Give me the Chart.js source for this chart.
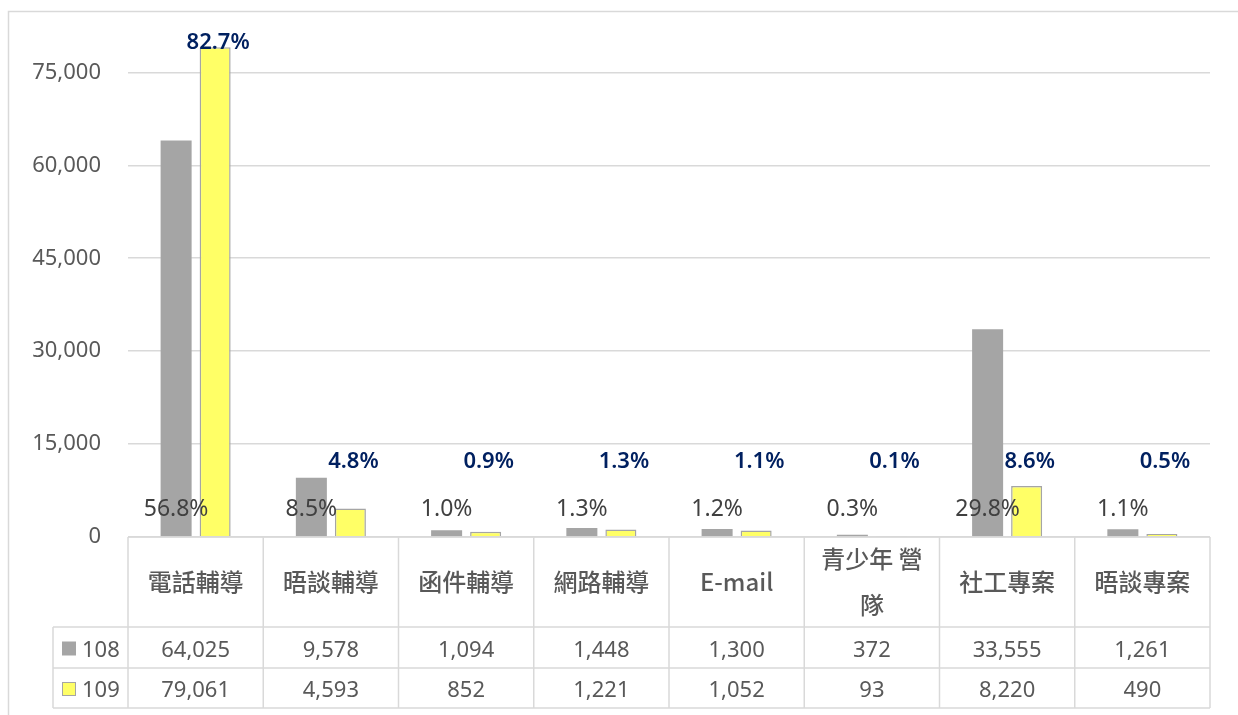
<!DOCTYPE html>
<html>
<head>
<meta charset="utf-8">
<script src="https://cdn.jsdelivr.net/npm/chart.js"></script>
<style>
    body { margin: 0; background: #fff; }
    canvas { display: block; }
</style>
</head>
<body>
<canvas id="chart-services" width="1238" height="715"></canvas>
<script>
const categories = ['電話輔導', '晤談輔導', '函件輔導', '網路輔導', 'E-mail', ['青少年 營', '隊'], '社工專案', '晤談專案'];
const values108 = [64025, 9578, 1094, 1448, 1300, 372, 33555, 1261];
const values109 = [79061, 4593, 852, 1221, 1052, 93, 8220, 490];
const share108 = ['56.8%', '8.5%', '1.0%', '1.3%', '1.2%', '0.3%', '29.8%', '1.1%'];
const share109 = ['82.7%', '4.8%', '0.9%', '1.3%', '1.1%', '0.1%', '8.6%', '0.5%'];
const yTicks = [0, 15000, 30000, 45000, 60000, 75000];
const seriesNames = ['108', '109'];

const GREY = '#a5a5a5';
const YELLOW = '#ffff66';
const LINE = '#d9d9d9';
const TEXT = '#595959';
const NUM_FONT = '22px "Noto Sans", "Noto Sans CJK TC", sans-serif';
const CJK_FONT = '500 24px "Noto Sans CJK TC", "Noto Sans", sans-serif';

const fmt = (v) => v.toLocaleString('en-US');

// percentage labels + data table under the plot
const tablePlugin = {
    id: 'dataTable',
    afterDraw(chart) {
        const {ctx, chartArea, scales} = chart;
        const n = categories.length;
        const colW = (chartArea.right - chartArea.left) / n;
        const top = chartArea.bottom;
        const rowHead = top + 90;
        const row1 = rowHead + 41;
        const row2 = row1 + 40;
        const legendLeft = 53;

        ctx.save();

        // outer frame
        ctx.strokeStyle = LINE;
        ctx.lineWidth = 1.5;
        ctx.strokeRect(8.5, 11.5, 1240, 720);

        // percentage labels
        ctx.textAlign = 'center';
        ctx.textBaseline = 'middle';
        const m0 = chart.getDatasetMeta(0);
        const m1 = chart.getDatasetMeta(1);
        ctx.font = '23px "Noto Sans", sans-serif';
        ctx.fillStyle = '#404040';
        m0.data.forEach((bar, i) => {
            ctx.fillText(share108[i], bar.x, scales.y.getPixelForValue(4850) + 2);
        });
        ctx.fillStyle = '#002060';
        ctx.font = '600 22px "Noto Sans", sans-serif';
        m1.data.forEach((bar, i) => {
            let y = scales.y.getPixelForValue(12200);
            if (bar.y - 8 < y) y = bar.y - 5;
            ctx.fillText(share109[i], bar.x + 3, y);
        });

        // table grid
        ctx.strokeStyle = LINE;
        ctx.lineWidth = 1.5;
        ctx.beginPath();
        ctx.moveTo(chartArea.left, top);
        ctx.lineTo(chartArea.right, top);
        [rowHead, row1, row2].forEach((y) => {
            ctx.moveTo(legendLeft, y);
            ctx.lineTo(chartArea.right, y);
        });
        for (let i = 0; i <= n; i++) {
            const x = chartArea.left + colW * i;
            ctx.moveTo(x, top);
            ctx.lineTo(x, row2);
        }
        ctx.moveTo(legendLeft, rowHead);
        ctx.lineTo(legendLeft, row2);
        ctx.stroke();

        // legend keys
        const keyY = [(rowHead + row1) / 2, (row1 + row2) / 2];
        [GREY, YELLOW].forEach((c, k) => {
            ctx.fillStyle = c;
            ctx.fillRect(62, keyY[k] - 6, 14, 14);
            if (k === 1) {
                ctx.strokeStyle = GREY;
                ctx.lineWidth = 1;
                ctx.strokeRect(62.5, keyY[k] - 5.5, 13, 13);
            }
            ctx.fillStyle = TEXT;
            ctx.font = NUM_FONT;
            ctx.textAlign = 'left';
            ctx.fillText(seriesNames[k], 82, keyY[k] + 3);
        });

        // category headers and values
        ctx.textAlign = 'center';
        ctx.fillStyle = TEXT;
        categories.forEach((cat, i) => {
            const cx = chartArea.left + colW * (i + 0.5);
            const lines = Array.isArray(cat) ? cat : [cat];
            ctx.font = CJK_FONT;
            const lh = 46;
            const startY = (top + rowHead) / 2 - (lines.length - 1) * lh / 2;
            lines.forEach((t, j) => ctx.fillText(t, cx, startY + j * lh));
            ctx.font = NUM_FONT;
            ctx.fillText(fmt(values108[i]), cx, keyY[0] + 3);
            ctx.fillText(fmt(values109[i]), cx, keyY[1] + 3);
        });

        ctx.restore();
    },
};

new Chart(document.getElementById('chart-services'), {
    type: 'bar',
    data: {
        labels: categories,
        datasets: [{
            label: seriesNames[0],
            data: values108,
            backgroundColor: GREY,
            borderWidth: 0,
        }, {
            label: seriesNames[1],
            data: values109,
            backgroundColor: YELLOW,
            borderColor: GREY,
            borderWidth: 1.5,
        }],
    },
    options: {
        responsive: false,
        animation: false,
        events: [],
        layout: {
            padding: { top: 16, right: 28, bottom: 178, left: 0 },
        },
        datasets: {
            bar: { categoryPercentage: 0.577, barPercentage: 0.795 },
        },
        plugins: {
            legend: { display: false },
            tooltip: { enabled: false },
        },
        scales: {
            x: { display: false },
            y: {
                min: 0,
                max: 80200,
                afterFit: (axis) => { axis.width = 128; },
                afterBuildTicks: (axis) => {
                    axis.ticks = yTicks.map((v) => ({ value: v }));
                },
                ticks: {
                    padding: 27,
                    color: TEXT,
                    font: { family: '"Noto Sans", sans-serif', size: 22 },
                    callback: (v) => fmt(v),
                },
                grid: { color: LINE, lineWidth: 1.5, drawTicks: false },
                border: { display: false },
            },
        },
    },
    plugins: [tablePlugin],
});
</script>
</body>
</html>
